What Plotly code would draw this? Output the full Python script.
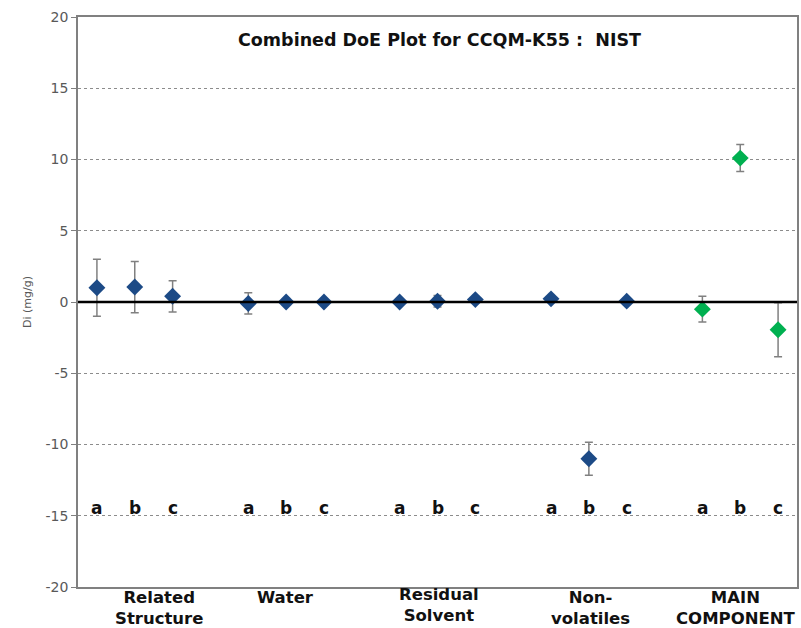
import plotly.graph_objects as go

groups = ["Related<br>Structure", "Water", "Residual<br>Solvent", "Non-<br>volatiles", "MAIN<br>COMPONENT"]
subs = ["a", "b", "c"]
values = [
    [1.0, 1.05, 0.4],
    [-0.1, 0.0, 0.0],
    [0.0, 0.05, 0.17],
    [0.22, -11.0, 0.06],
    [-0.5, 10.1, -1.95],
]
errors = [
    [2.0, 1.8, 1.1],
    [0.75, 0.15, 0.1],
    [0.15, 0.4, 0.2],
    [0.2, 1.15, 0.2],
    [0.9, 0.95, 1.9],
]
main_group = "MAIN<br>COMPONENT"
y_ticks = [-20, -15, -10, -5, 0, 5, 10, 15, 20]
y_ticktext = [str(v) for v in y_ticks]

BLUE = "#1c4a86"
GREEN = "#00b050"
FONT = "DejaVu Sans, Arial, sans-serif"

fig = go.Figure()
for gi, g in enumerate(groups):
    xs = [gi * 4 + si for si in range(len(subs))]
    color = GREEN if g == main_group else BLUE
    fig.add_trace(go.Scatter(
        x=xs, y=values[gi], mode="markers",
        marker=dict(symbol="diamond", size=13, color=color),
        error_y=dict(type="data", array=errors[gi], color="#808080", thickness=1.5, width=4),
        showlegend=False, cliponaxis=False,
    ))
    for si, s in enumerate(subs):
        fig.add_annotation(x=gi * 4 + si, y=-14.45, text="<b>%s</b>" % s, showarrow=False,
                           font=dict(family=FONT, size=17, color="#111"), yanchor="middle")

label_offsets = [0.63, -0.03, 0.05, 0.03, -0.1]
label_y = [0.0, 0.0, 0.006, 0.0, 0.0]
for gi, g in enumerate(groups):
    fig.add_annotation(x=gi * 4 + 1 + label_offsets[gi], y=label_y[gi], yref="paper",
                       text="<b>%s</b>" % g, borderpad=0,
                       showarrow=False, font=dict(family=FONT, size=16.5, color="#111"),
                       yanchor="top", xanchor="center")

fig.add_annotation(x=9.05, y=18.4, text="<b>Combined DoE Plot for CCQM-K55 :  NIST</b>",
                   showarrow=False, font=dict(family=FONT, size=17.5, color="#111"), yanchor="middle")

fig.add_shape(type="line", xref="paper", x0=0, x1=1, y0=0, y1=0, line=dict(color="black", width=2.5))

fig.update_layout(
    width=801, height=628,
    margin=dict(l=78, r=2, t=17, b=41),
    paper_bgcolor="white", plot_bgcolor="white",
    xaxis=dict(range=[-0.5, 18.5], showgrid=False, zeroline=False, showticklabels=False,
               showline=True, linecolor="#808080", linewidth=1.5, mirror=True, ticks=""),
    yaxis=dict(range=[-20, 20], tickvals=y_ticks, ticktext=y_ticktext, showgrid=True, gridcolor="#8c8c8c",
               griddash="dot", gridwidth=1, zeroline=False,
               showline=True, linecolor="#808080", linewidth=1.5, mirror=True,
               ticks="outside", ticklen=5, tickcolor="#808080",
               tickfont=dict(family=FONT, size=14, color="#595959"),
               title=dict(text="Di (mg/g)", font=dict(family=FONT, size=11, color="#595959"), standoff=12)),
    font=dict(family=FONT),
)

fig.write_html("out.html")
